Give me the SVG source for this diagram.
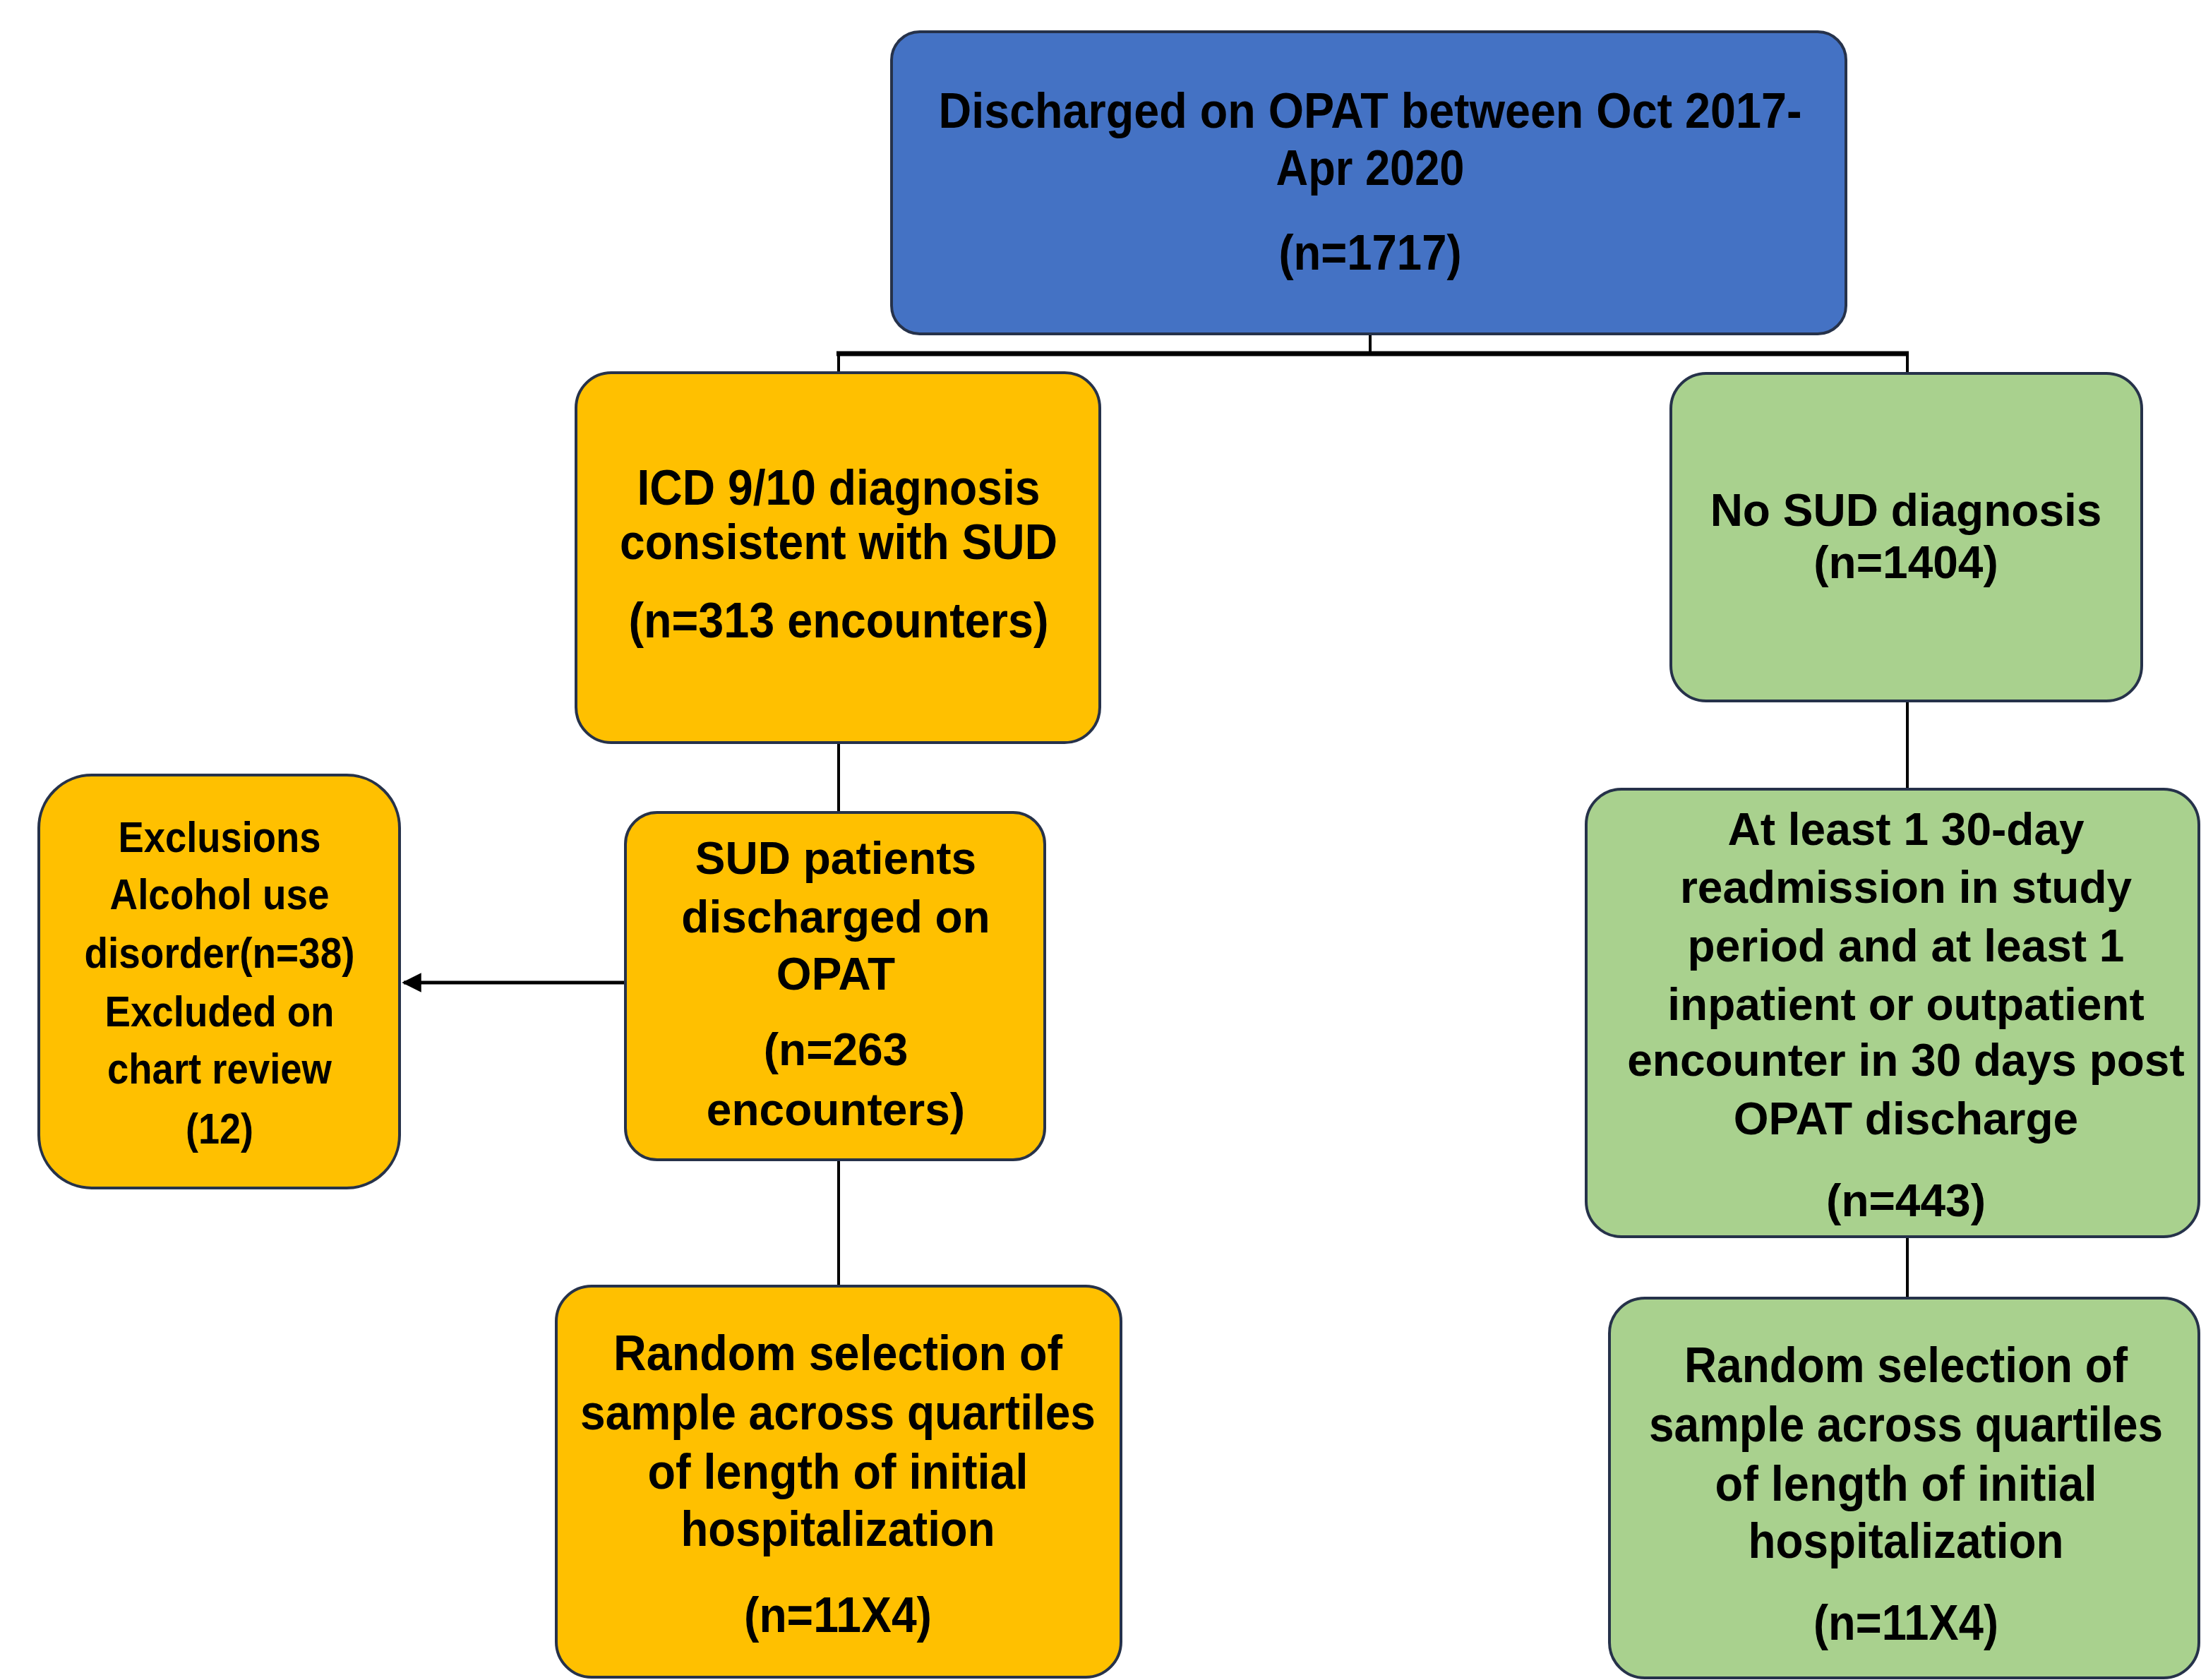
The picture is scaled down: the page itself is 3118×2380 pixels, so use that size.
<svg xmlns="http://www.w3.org/2000/svg" width="3118" height="2380" viewBox="0 0 3118 2380">
<style>
.box{stroke:#26324a;stroke-width:4}
.blue{fill:#4472C4}
.yel{fill:#FFC000}
.grn{fill:#A9D18E}
text{font-family:"Liberation Sans",Arial,sans-serif;font-weight:bold;font-size:64px;fill:#000;text-anchor:middle}
text.c{font-size:70px}
text.e{font-size:62px}
.ln{stroke:#000;stroke-width:4;fill:none}
</style>
<defs>
<marker id="arr" viewBox="0 0 10 10" refX="9" refY="5" markerWidth="5.5" markerHeight="5.5" orient="auto-start-reverse">
<path d="M0,0 L10,5 L0,10 z" fill="#000"/>
</marker>
</defs>
<rect width="3118" height="2380" fill="#fff"/>
<g id="connectors">
<line class="ln" x1="1941" y1="475" x2="1941" y2="501"/>
<line class="ln" x1="1185" y1="501" x2="2704" y2="501" style="stroke-width:7"/>
<line class="ln" x1="1188" y1="501" x2="1188" y2="529"/>
<line class="ln" x1="2702" y1="501" x2="2702" y2="529"/>
<line class="ln" x1="1188" y1="1052" x2="1188" y2="1151"/>
<line class="ln" x1="886" y1="1392" x2="572" y2="1392" marker-end="url(#arr)" style="stroke-width:5"/>
<line class="ln" x1="1188" y1="1643" x2="1188" y2="1822"/>
<line class="ln" x1="2702" y1="993" x2="2702" y2="1118"/>
<line class="ln" x1="2702" y1="1752" x2="2702" y2="1839"/>
</g>
<g id="n-top">
<rect class="box blue" x="1263" y="45" width="1352" height="428" rx="40"/>
<text class="c" x="1941" y="181" textLength="1223" lengthAdjust="spacingAndGlyphs">Discharged on OPAT between Oct 2017-</text>
<text class="c" x="1941" y="262" textLength="267" lengthAdjust="spacingAndGlyphs">Apr 2020</text>
<text class="c" x="1941" y="382" textLength="259" lengthAdjust="spacingAndGlyphs">(n=1717)</text>
</g>
<g id="n-icd">
<rect class="box yel" x="816" y="528" width="742" height="524" rx="50"/>
<text class="c" x="1188" y="715" textLength="571" lengthAdjust="spacingAndGlyphs">ICD 9/10 diagnosis</text>
<text class="c" x="1188" y="792" textLength="620" lengthAdjust="spacingAndGlyphs">consistent with SUD</text>
<text class="c" x="1188" y="903" textLength="595" lengthAdjust="spacingAndGlyphs">(n=313 encounters)</text>
</g>
<g id="n-sud">
<rect class="box yel" x="886" y="1151" width="594" height="492" rx="45"/>
<text x="1184" y="1238">SUD patients</text>
<text x="1184" y="1321">discharged on</text>
<text x="1184" y="1402">OPAT</text>
<text x="1184" y="1509">(n=263</text>
<text x="1184" y="1594">encounters)</text>
</g>
<g id="n-excl">
<rect class="box yel" x="55" y="1098" width="511" height="585" rx="75"/>
<text class="e" x="311" y="1207" textLength="287" lengthAdjust="spacingAndGlyphs">Exclusions</text>
<text class="e" x="311" y="1288" textLength="311" lengthAdjust="spacingAndGlyphs">Alcohol use</text>
<text class="e" x="311" y="1371" textLength="383" lengthAdjust="spacingAndGlyphs">disorder(n=38)</text>
<text class="e" x="311" y="1454" textLength="325" lengthAdjust="spacingAndGlyphs">Excluded on</text>
<text class="e" x="311" y="1535" textLength="318" lengthAdjust="spacingAndGlyphs">chart review</text>
<text class="e" x="311" y="1620" textLength="96" lengthAdjust="spacingAndGlyphs">(12)</text>
</g>
<g id="n-rand-left">
<rect class="box yel" x="788" y="1822" width="800" height="554" rx="50"/>
<text class="c" x="1187" y="1941" textLength="636" lengthAdjust="spacingAndGlyphs">Random selection of</text>
<text class="c" x="1187" y="2025" textLength="730" lengthAdjust="spacingAndGlyphs">sample across quartiles</text>
<text class="c" x="1187" y="2109" textLength="539" lengthAdjust="spacingAndGlyphs">of length of initial</text>
<text class="c" x="1187" y="2190" textLength="445" lengthAdjust="spacingAndGlyphs">hospitalization</text>
<text class="c" x="1187" y="2312" textLength="266" lengthAdjust="spacingAndGlyphs">(n=11X4)</text>
</g>
<g id="n-nosud">
<rect class="box grn" x="2367" y="529" width="667" height="464" rx="50"/>
<text x="2700" y="745">No SUD diagnosis</text>
<text x="2700" y="819">(n=1404)</text>
</g>
<g id="n-atleast">
<rect class="box grn" x="2247" y="1118" width="868" height="634" rx="50"/>
<text x="2700" y="1197">At least 1 30-day</text>
<text x="2700" y="1279">readmission in study</text>
<text x="2700" y="1362">period and at least 1</text>
<text x="2700" y="1445">inpatient or outpatient</text>
<text x="2700" y="1524">encounter in 30 days post</text>
<text x="2700" y="1607">OPAT discharge</text>
<text x="2700" y="1723">(n=443)</text>
</g>
<g id="n-rand-right">
<rect class="box grn" x="2280" y="1839" width="835" height="538" rx="50"/>
<text class="c" x="2700" y="1958" textLength="628" lengthAdjust="spacingAndGlyphs">Random selection of</text>
<text class="c" x="2700" y="2042" textLength="728" lengthAdjust="spacingAndGlyphs">sample across quartiles</text>
<text class="c" x="2700" y="2126" textLength="541" lengthAdjust="spacingAndGlyphs">of length of initial</text>
<text class="c" x="2700" y="2207" textLength="447" lengthAdjust="spacingAndGlyphs">hospitalization</text>
<text class="c" x="2700" y="2323" textLength="262" lengthAdjust="spacingAndGlyphs">(n=11X4)</text>
</g>
</svg>
